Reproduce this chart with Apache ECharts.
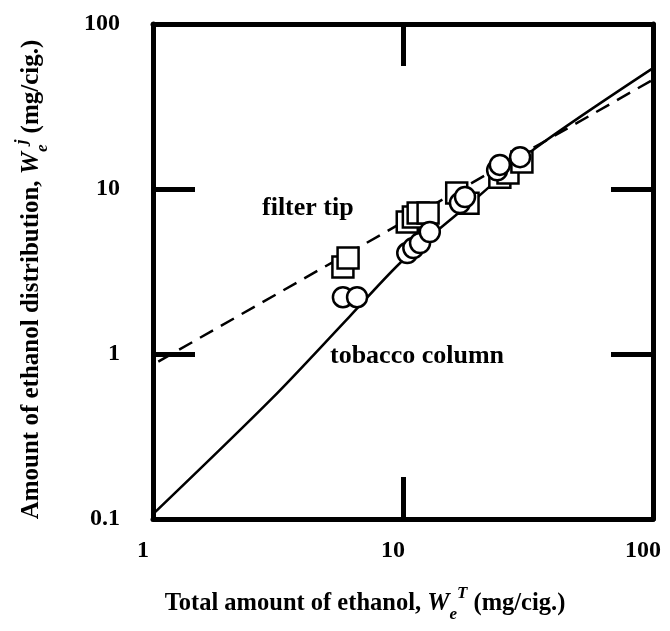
<!DOCTYPE html>
<html>
<head>
<meta charset="utf-8">
<script src="https://cdn.jsdelivr.net/npm/echarts@6/dist/echarts.min.js"></script>
<style>
  html, body { margin: 0; padding: 0; background: #fff; }
</style>
</head>
<body>
<div id="chart" style="width: 670px; height: 631px"></div>
<script>
// filter tip (squares)
var squareX = [5.75, 6.03, 10.4, 11.0, 11.5, 12.6, 16.4, 18.2, 24.4, 26.3, 29.9]
var squareY = [3.37, 3.82, 6.31, 6.77, 7.16, 7.16, 9.46, 8.2, 11.8, 12.5, 14.6]
// tobacco column (circles)
var circleX = [5.75, 6.55, 10.4, 11.0, 11.7, 12.8, 16.9, 17.7, 23.8, 24.4, 29.4]
var circleY = [2.21, 2.21, 4.09, 4.39, 4.71, 5.49, 8.22, 8.95, 13.0, 14.0, 15.6]
// solid curve (tobacco column)
var tobaccoLineX = [1, 3, 6.1, 10, 20, 33, 100]
var tobaccoLineY = [0.107, 0.54, 1.68, 3.7, 9.0, 17.2, 54]
// dashed line (filter tip)
var filterLineX = [1.05, 100]
var filterLineY = [0.9, 46]

var xTicks = [1, 10, 100]
var yTicks = [0.1, 1, 10, 100]

function pairs(xs, ys) {
  return xs.map(function (x, i) { return [x, ys[i]] })
}

var FONT = "'Liberation Serif', 'DejaVu Serif', serif"

var chart = echarts.init(document.getElementById('chart'))

function axisBase(extra) {
  var a = {
    type: 'log',
    logBase: 10,
    axisLine: { show: true, onZero: false, lineStyle: { color: '#000', width: 5 } },
    axisTick: { show: true, inside: true, length: 42, lineStyle: { color: '#000', width: 5 } },
    minorTick: { show: false },
    splitLine: { show: false },
    axisLabel: { show: false }
  }
  for (var k in extra) a[k] = extra[k]
  return a
}

var titleRich = {
  w: { fontFamily: FONT, fontWeight: 'bold', fontStyle: 'italic', fontSize: 25, color: '#000', lineHeight: 38, verticalAlign: 'middle' },
  sub: { fontFamily: FONT, fontWeight: 'bold', fontStyle: 'italic', fontSize: 17, color: '#000', lineHeight: 17, verticalAlign: 'bottom' },
  sup: { fontFamily: FONT, fontWeight: 'bold', fontStyle: 'italic', fontSize: 17, color: '#000', lineHeight: 17, verticalAlign: 'top' }
}

var option = {
  animation: false,
  backgroundColor: '#fff',
  grid: { left: 153, right: 17, top: 24, bottom: 112 },
  xAxis: [
    axisBase({
      min: xTicks[0], max: xTicks[xTicks.length - 1], position: 'bottom',
      name: 'Total amount of ethanol, {w|W}{sub|e}{sup|T} (mg/cig.)',
      nameLocation: 'middle', nameGap: 66,
      nameTextStyle: {
        fontFamily: FONT, fontWeight: 'bold', fontSize: 24.5, color: '#000', lineHeight: 38,
        padding: [0, 76, 0, 0], rich: titleRich
      },
      axisLabel: {
        show: true, color: '#000', fontFamily: FONT, fontWeight: 'bold', fontSize: 24, margin: 20,
        padding: [0, 20, 0, 0],
        formatter: function (v) { return String(Math.round(v)) }
      }
    }),
    axisBase({ min: xTicks[0], max: xTicks[xTicks.length - 1], position: 'top' })
  ],
  yAxis: [
    axisBase({
      min: yTicks[0], max: yTicks[yTicks.length - 1], position: 'left',
      name: 'Amount of ethanol distribution, {w|W}{sub|e}{sup|j} (mg/cig.)',
      nameLocation: 'middle', nameGap: 102, nameRotate: 90,
      nameTextStyle: {
        fontFamily: FONT, fontWeight: 'bold', fontSize: 25, color: '#000', lineHeight: 38,
        padding: [0, 16, 0, 0], rich: titleRich
      },
      axisLabel: {
        show: true, color: '#000', fontFamily: FONT, fontWeight: 'bold', fontSize: 24, margin: 33,
        formatter: function (v) { return v < 1 ? v.toFixed(1) : String(Math.round(v)) }
      }
    }),
    axisBase({ min: yTicks[0], max: yTicks[yTicks.length - 1], position: 'right' })
  ],
  graphic: [
    { type: 'text', left: 262, top: 195, style: { text: 'filter tip', fill: '#000', font: 'bold 26px ' + FONT } },
    { type: 'text', left: 330, top: 343, style: { text: 'tobacco column', fill: '#000', font: 'bold 26px ' + FONT } }
  ],
  series: [
    {
      name: 'tobacco line', type: 'line', z: 2, smooth: 0.3,
      data: pairs(tobaccoLineX, tobaccoLineY),
      symbol: 'none', lineStyle: { color: '#000', width: 2.5 }
    },
    {
      name: 'filter line', type: 'line', z: 2,
      data: pairs(filterLineX, filterLineY),
      symbol: 'none', lineStyle: { color: '#000', width: 2.5, type: [15, 9] }
    },
    {
      name: 'filter tip', type: 'scatter', z: 3,
      data: pairs(squareX, squareY),
      symbol: 'rect', symbolSize: 21,
      itemStyle: { color: '#fff', borderColor: '#000', borderWidth: 2.5, opacity: 1 }
    },
    {
      name: 'tobacco column', type: 'scatter', z: 4,
      data: pairs(circleX, circleY),
      symbol: 'circle', symbolSize: 20,
      itemStyle: { color: '#fff', borderColor: '#000', borderWidth: 2.5, opacity: 1 }
    }
  ]
}

chart.setOption(option)
</script>
</body>
</html>
